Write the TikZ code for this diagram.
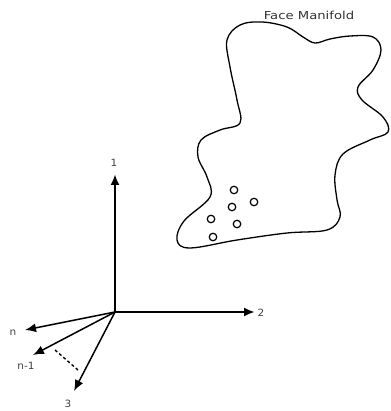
\documentclass[tikz,border=0pt]{standalone}
\usepackage{fontspec}
\setmainfont{DejaVu Sans}
\usetikzlibrary{arrows.meta}
\begin{document}
\begin{tikzpicture}[x=1pt,y=-1pt,
  axis/.style={line width=2.3pt,-{Latex[length=11pt,width=9pt]}},
  faxis/.style={line width=1.5pt,-{Latex[length=11pt,width=9pt]}},
  lbl/.style={font=\fontsize{10}{11}\selectfont,text=black!75,inner sep=0pt,xscale=1.05},
  sample/.style={circle,draw,line width=1.2pt,minimum size=7.5pt,inner sep=0pt},
  outline/.style={line width=1.3pt}]
\useasboundingbox (0,0) rectangle (390,411);

% origin and axis tips
\coordinate (o) at (115,312);
\coordinate (e1) at (115,174);
\coordinate (e2) at (255,312);
\coordinate (en) at (25,330);
\coordinate (enm) at (33,355);
\coordinate (e3) at (74,391);

\draw[axis] (o) -- (e1);
\draw[axis] (o) -- (e2);
\draw[faxis] (o) -- (en);
\draw[faxis] (o) -- (enm);
\draw[faxis] (o) -- (e3);

% dots between the n-1 and 3 directions
\coordinate (da) at (55,350);
\coordinate (db) at (78,370);
\draw[line width=1.4pt,dash pattern=on 3pt off 2.5pt] (da) -- (db);

\node[lbl] (l1) at (114,163) {1};
\node[lbl] (l2) at (261,313) {2};
\node[lbl] (ln) at (13,333) {n};
\node[lbl] (lnm) at (26,366) {n-1};
\node[lbl] (l3) at (68,404) {3};

% manifold boundary
\draw[outline] plot[smooth cycle,tension=0.6] coordinates {
  (227,40) (240,25) (262,22) (287,27) (303,37) (315,43) (330,39) (350,36)
  (373,37) (381,50) (373,70) (358,87) (362,100) (383,117) (388,132)
  (370,140) (343,154) (335,175) (337,200) (340,217) (327,230) (287,233)
  (237,240) (190,248) (177,240) (184,221) (210,197) (207,177) (198,157)
  (201,140) (220,130) (240,123) (237,100) (230,67)};
\node[font=\fontsize{11}{12}\selectfont,text=black!80,inner sep=0pt,xscale=1.2] (title) at (309,15) {Face Manifold};

% face samples
\node[sample] (s1) at (234,190) {};
\node[sample] (s2) at (232,207) {};
\node[sample] (s3) at (254,202) {};
\node[sample] (s4) at (211,219) {};
\node[sample] (s5) at (237,224) {};
\node[sample] (s6) at (213,237) {};
\end{tikzpicture}
\end{document}
